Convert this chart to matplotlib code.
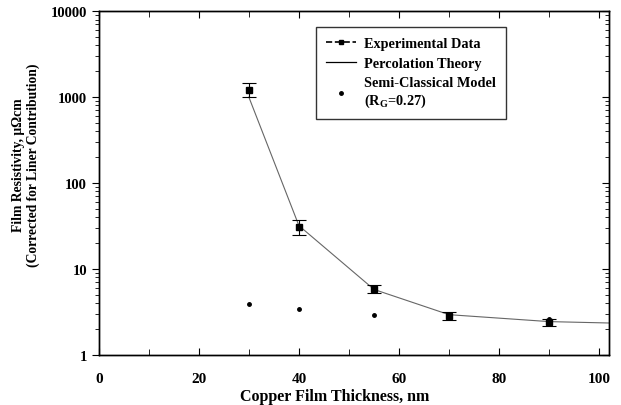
import numpy as np
import matplotlib
matplotlib.use("Agg")
import matplotlib.pyplot as plt
from matplotlib.lines import Line2D
from matplotlib.ticker import MultipleLocator, LogLocator, NullFormatter

plt.rcParams['font.family'] = ['Liberation Serif', 'DejaVu Serif']
plt.rcParams['font.weight'] = 'bold'
plt.rcParams['mathtext.fontset'] = 'custom'
plt.rcParams['mathtext.rm'] = 'Liberation Serif:bold'
plt.rcParams['mathtext.it'] = 'Liberation Serif:bold'

# Experimental data (thickness nm, resistivity, error low/high)
exp_x = [30, 40, 55, 70, 90]
exp_y = [1200, 31, 5.9, 2.85, 2.42]
exp_lo = [1000, 25, 5.3, 2.55, 2.17]
exp_hi = [1450, 37, 6.5, 3.15, 2.6]

# Percolation theory curve
perc_x = [30, 40, 55, 70, 90, 102]
perc_y = [1000, 32, 5.8, 2.95, 2.45, 2.36]

# Semi-classical model
semi_x = [30, 40, 55, 70, 90]
semi_y = [3.9, 3.4, 2.9, 2.75, 2.6]

fig = plt.figure(figsize=(6.21, 4.06), dpi=100)
ax = fig.add_axes([0.159, 0.123, 0.822, 0.847])

ax.plot(perc_x, perc_y, color='#666666', lw=0.8)
ax.plot(semi_x, semi_y, 'o', color='black', ms=2.5, ls='none')
yerr = [np.array(exp_y) - np.array(exp_lo), np.array(exp_hi) - np.array(exp_y)]
ax.errorbar(exp_x, exp_y, yerr=yerr, fmt='s', color='black', ms=4.5,
            ecolor='black', elinewidth=0.8, capsize=5, capthick=0.8)

ax.set_yscale('log')
ax.set_xlim(0, 102)
ax.set_ylim(1, 10000)
ax.set_yticks([1, 10, 100, 1000, 10000])
ax.set_yticklabels(['1', '10', '100', '1000', '10000'])
ax.yaxis.set_minor_locator(LogLocator(base=10, subs=np.arange(2, 10)))
ax.yaxis.set_minor_formatter(NullFormatter())
ax.xaxis.set_major_locator(MultipleLocator(20))
ax.xaxis.set_minor_locator(MultipleLocator(10))

ax.tick_params(axis='x', which='both', direction='in', top=True, labelsize=11, pad=12)
ax.tick_params(axis='x', which='major', length=5)
ax.tick_params(axis='x', which='minor', length=4)
ax.tick_params(axis='y', which='both', direction='out', right=False, labelsize=10.5)
ax.tick_params(axis='y', which='major', length=5)
ax.tick_params(axis='y', which='minor', length=3)
for lab in ax.get_xticklabels() + ax.get_yticklabels():
    lab.set_fontweight('bold')

# right side inward ticks
ax2 = ax.twinx()
ax2.set_yscale('log')
ax2.set_ylim(1, 10000)
ax2.yaxis.set_minor_locator(LogLocator(base=10, subs=np.arange(2, 10)))
ax2.tick_params(axis='y', which='both', direction='in', labelright=False)
ax2.tick_params(axis='y', which='major', length=5)
ax2.tick_params(axis='y', which='minor', length=3)

for a in (ax, ax2):
    for s in a.spines.values():
        s.set_linewidth(1.0)

ax.set_xlabel('Copper Film Thickness, nm', fontsize=11.5, fontweight='bold')
ax.xaxis.set_label_coords(0.463, -0.095)
ax.set_ylabel('Film Resistivity, μΩcm\n(Corrected for Liner Contribution)',
              fontsize=9.8, fontweight='bold', linespacing=1.15)
ax.yaxis.set_label_coords(-0.115, 0.555)

handles = [
    Line2D([], [], color='black', ls='--', lw=1.2, marker='s', ms=3.5),
    Line2D([], [], color='black', lw=0.9),
    Line2D([], [], color='black', ls='none', marker='o', ms=2.5),
]
labels = ['Experimental Data', 'Percolation Theory',
          'Semi-Classical Model\n(R$_G$=0.27)']
leg = ax.legend(handles, labels, loc='upper left', bbox_to_anchor=(0.425, 0.953),
                borderaxespad=0, frameon=True, fancybox=False, handlelength=2.1,
                handletextpad=0.6, labelspacing=0.45, borderpad=0.7,
                prop={'family': 'Liberation Serif', 'weight': 'bold', 'size': 10.3})
leg.get_frame().set_edgecolor('black')
leg.get_frame().set_linewidth(1.0)
leg.set_zorder(5)

fig.savefig('out.png', dpi=100)
